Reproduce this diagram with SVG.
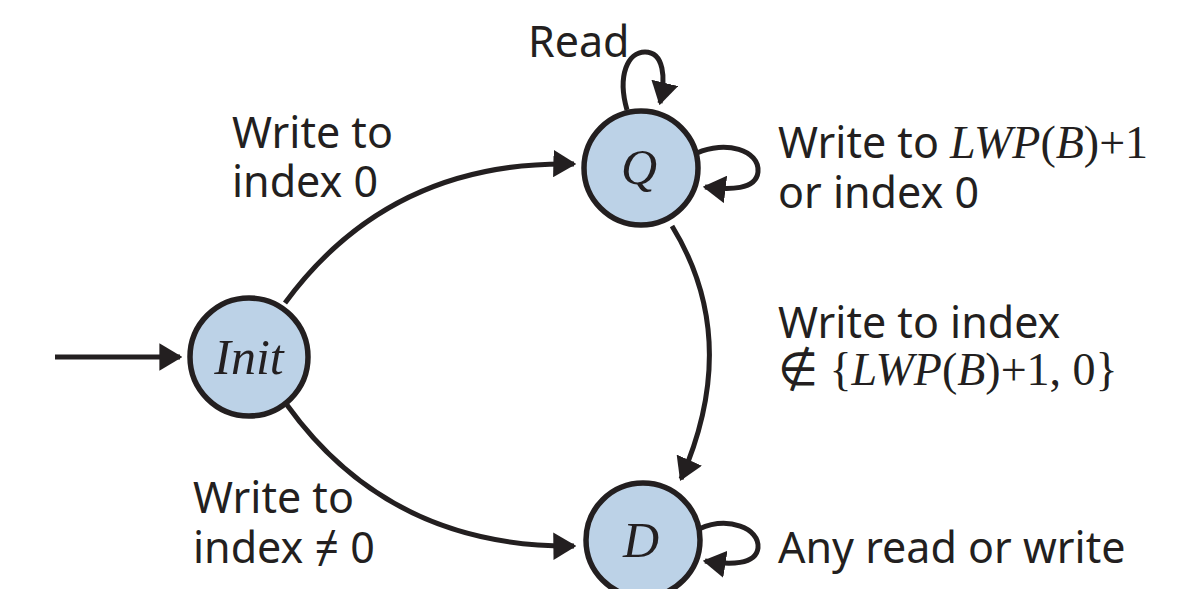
<svg xmlns="http://www.w3.org/2000/svg" width="1196" height="589" viewBox="0 0 1196 589">
<defs>
<style>
.st{fill:#bcd2e7;stroke:#231f20;stroke-width:5.5}
.e{fill:none;stroke:#231f20;stroke-width:5}
.lb{font-family:"Noto Sans","Open Sans",sans-serif;font-size:43px;fill:#231f20}
.m{font-family:"Liberation Serif",serif;font-style:italic;font-size:46px;fill:#231f20}
.mr{font-family:"Liberation Serif",serif;font-size:46px;fill:#231f20}
.nl{font-family:"Liberation Serif",serif;font-style:italic;font-size:50px;fill:#231f20}
</style>
<marker id="ah" viewBox="0 0 10 12" refX="9" refY="6" markerWidth="4.6" markerHeight="5.5" markerUnits="strokeWidth" orient="auto">
<path d="M0,0 L10,6 L0,12 z" fill="#231f20"/>
</marker>
</defs>
<rect width="1196" height="589" fill="#fff"/>
<g id="connectors">
<line class="e" x1="55" y1="357" x2="180" y2="357" marker-end="url(#ah)"/>
<path class="e" d="M285,303 Q390,160 574,164" marker-end="url(#ah)"/>
<path class="e" d="M287,405 Q390,548 574,546" marker-end="url(#ah)"/>
<path class="e" d="M672,226 Q742,340 681,479" marker-end="url(#ah)"/>
<path class="e" d="M627,110 C617,75 628,52 645,52 C664,52 666,78 660,103" marker-end="url(#ah)"/>
<path class="e" d="M697,153 C725,140 760,150 758,172 C756,190 730,190 705,187" marker-end="url(#ah)"/>
<path class="e" d="M699,529 C728,516 760,528 758,548 C756,565 730,565 705,561" marker-end="url(#ah)"/>
</g>
<g id="node-init">
<circle class="st" cx="249" cy="357" r="59"/>
<text class="nl" x="249" y="374" text-anchor="middle">Init</text>
</g>
<g id="node-q">
<circle class="st" cx="641" cy="168" r="57"/>
<text class="nl" x="639" y="184" text-anchor="middle">Q</text>
</g>
<g id="node-d">
<circle class="st" cx="643" cy="540" r="57"/>
<text class="nl" x="641" y="557" text-anchor="middle">D</text>
</g>
<g id="labels">
<text class="lb" x="528" y="57">Read</text>
<text class="lb" x="232" y="148">Write to</text>
<text class="lb" x="232" y="197">index 0</text>
<text class="lb" x="778" y="158">Write to <tspan class="m">LWP</tspan><tspan class="mr">(</tspan><tspan class="m">B</tspan><tspan class="mr">)+1</tspan></text>
<text class="lb" x="778" y="208">or index 0</text>
<text class="lb" x="778" y="338">Write to index</text>
<text class="mr" x="778" y="385">∉ {<tspan class="m">LWP</tspan>(<tspan class="m">B</tspan>)+1, 0}</text>
<text class="lb" x="193" y="513">Write to</text>
<text class="lb" x="193" y="563">index ≠ 0</text>
<text class="lb" x="778" y="563">Any read or write</text>
</g>
</svg>
